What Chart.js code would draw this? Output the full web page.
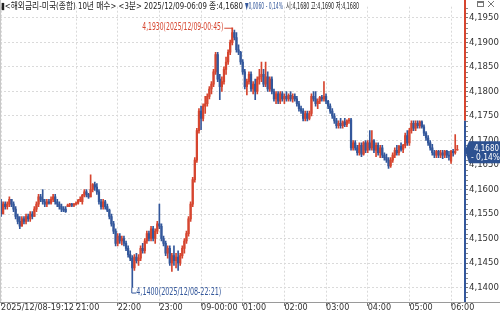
<!DOCTYPE html>
<html>
<head>
<meta charset="utf-8">
<script src="https://cdn.jsdelivr.net/npm/chart.js@4/dist/chart.umd.min.js"></script>
<style>
  html, body { margin: 0; padding: 0; background: #fff; }
</style>
</head>
<body>
<canvas id="chart" width="500" height="314"></canvas>
<script>
// 3-minute candles, 2025/12/08 19:12 -> 2025/12/09 06:09 (one entry per bar)
const opens = [
  4.1575,4.1550,4.1570,4.1565,4.1570,4.1580,4.1570,4.1560,4.1545,4.1535,
  4.1525,4.1540,4.1535,4.1545,4.1540,4.1550,4.1545,4.1560,4.1570,4.1585,
  4.1580,4.1575,4.1570,4.1575,4.1572,4.1580,4.1585,4.1575,4.1570,4.1565,
  4.1560,4.1560,4.1565,4.1568,4.1570,4.1568,4.1570,4.1572,4.1578,4.1575,
  4.1588,4.1595,4.1590,4.1585,4.1600,4.1610,4.1605,4.1595,4.1575,4.1565,
  4.1575,4.1565,4.1558,4.1545,4.1530,4.1515,4.1490,4.1505,4.1495,4.1500,
  4.1490,4.1480,4.1467,4.1460,4.1440,4.1462,4.1455,4.1460,4.1480,4.1475,
  4.1495,4.1510,4.1500,4.1520,4.1500,4.1515,4.1530,4.1525,4.1500,4.1490,
  4.1470,4.1480,4.1450,4.1465,4.1455,4.1462,4.1450,4.1465,4.1480,4.1495,
  4.1510,4.1540,4.1570,4.1620,4.1660,4.1720,4.1760,4.1745,4.1770,4.1775,
  4.1790,4.1805,4.1815,4.1840,4.1875,4.1825,4.1810,4.1820,4.1845,4.1860,
  4.1880,4.1900,4.1920,4.1910,4.1885,4.1880,4.1860,4.1840,4.1810,4.1820,
  4.1835,4.1805,4.1815,4.1800,4.1825,4.1830,4.1835,4.1815,4.1830,4.1805,
  4.1825,4.1800,4.1785,4.1795,4.1780,4.1795,4.1785,4.1790,4.1785,4.1792,
  4.1785,4.1790,4.1785,4.1775,4.1765,4.1760,4.1745,4.1755,4.1745,4.1755,
  4.1790,4.1785,4.1775,4.1780,4.1788,4.1785,4.1790,4.1780,4.1770,4.1760,
  4.1750,4.1740,4.1730,4.1735,4.1730,4.1738,4.1732,4.1740,4.1742,4.1685,
  4.1695,4.1685,4.1675,4.1690,4.1672,4.1695,4.1680,4.1695,4.1685,4.1700,
  4.1680,4.1690,4.1675,4.1685,4.1670,4.1665,4.1660,4.1648,4.1660,4.1670,
  4.1680,4.1675,4.1688,4.1682,4.1690,4.1710,4.1695,4.1720,4.1735,4.1725,
  4.1735,4.1730,4.1738,4.1728,4.1715,4.1705,4.1695,4.1685,4.1675,4.1670,
  4.1678,4.1670,4.1675,4.1670,4.1678,4.1670,4.1658,4.1678,4.1675,4.1680
];
const highs = [
  4.1580,4.1575,4.1575,4.1575,4.1585,4.1580,4.1575,4.1565,4.1550,4.1545,
  4.1545,4.1545,4.1550,4.1550,4.1555,4.1555,4.1565,4.1575,4.1590,4.1590,
  4.1600,4.1580,4.1580,4.1580,4.1585,4.1590,4.1590,4.1580,4.1575,4.1570,
  4.1565,4.1565,4.1570,4.1572,4.1572,4.1572,4.1575,4.1580,4.1585,4.1590,
  4.1600,4.1600,4.1592,4.1630,4.1612,4.1615,4.1612,4.1600,4.1580,4.1580,
  4.1578,4.1570,4.1560,4.1550,4.1535,4.1520,4.1510,4.1510,4.1505,4.1505,
  4.1495,4.1485,4.1475,4.1465,4.1467,4.1470,4.1467,4.1485,4.1490,4.1500,
  4.1515,4.1515,4.1525,4.1525,4.1520,4.1535,4.1570,4.1530,4.1505,4.1495,
  4.1485,4.1485,4.1470,4.1485,4.1470,4.1475,4.1470,4.1485,4.1500,4.1515,
  4.1545,4.1575,4.1625,4.1665,4.1725,4.1765,4.1770,4.1775,4.1790,4.1795,
  4.1810,4.1820,4.1845,4.1880,4.1880,4.1835,4.1830,4.1850,4.1870,4.1885,
  4.1905,4.1930,4.1925,4.1920,4.1895,4.1882,4.1865,4.1845,4.1825,4.1840,
  4.1840,4.1820,4.1825,4.1830,4.1845,4.1860,4.1845,4.1860,4.1840,4.1830,
  4.1830,4.1805,4.1800,4.1800,4.1800,4.1800,4.1795,4.1800,4.1795,4.1800,
  4.1795,4.1795,4.1790,4.1780,4.1770,4.1765,4.1760,4.1760,4.1760,4.1795,
  4.1800,4.1800,4.1785,4.1790,4.1792,4.1820,4.1795,4.1782,4.1775,4.1765,
  4.1755,4.1745,4.1740,4.1745,4.1740,4.1745,4.1742,4.1745,4.1745,4.1700,
  4.1700,4.1690,4.1695,4.1695,4.1698,4.1700,4.1700,4.1720,4.1720,4.1702,
  4.1695,4.1695,4.1690,4.1690,4.1675,4.1672,4.1665,4.1665,4.1675,4.1685,
  4.1690,4.1690,4.1695,4.1692,4.1715,4.1720,4.1725,4.1740,4.1740,4.1740,
  4.1740,4.1740,4.1740,4.1732,4.1718,4.1710,4.1700,4.1692,4.1680,4.1680,
  4.1680,4.1680,4.1680,4.1680,4.1680,4.1678,4.1680,4.1682,4.1712,4.1690
];
const lows = [
  4.1545,4.1550,4.1560,4.1560,4.1565,4.1565,4.1555,4.1540,4.1530,4.1520,
  4.1525,4.1530,4.1530,4.1535,4.1535,4.1540,4.1545,4.1555,4.1565,4.1575,
  4.1570,4.1565,4.1565,4.1570,4.1570,4.1575,4.1570,4.1565,4.1560,4.1555,
  4.1555,4.1553,4.1565,4.1565,4.1565,4.1565,4.1568,4.1570,4.1575,4.1570,
  4.1585,4.1585,4.1582,4.1585,4.1595,4.1598,4.1590,4.1570,4.1560,4.1560,
  4.1560,4.1555,4.1540,4.1525,4.1510,4.1485,4.1485,4.1490,4.1487,4.1485,
  4.1475,4.1462,4.1455,4.1400,4.1435,4.1450,4.1445,4.1455,4.1470,4.1470,
  4.1490,4.1495,4.1495,4.1495,4.1490,4.1510,4.1520,4.1495,4.1485,4.1465,
  4.1460,4.1445,4.1433,4.1445,4.1440,4.1435,4.1445,4.1460,4.1470,4.1490,
  4.1505,4.1535,4.1565,4.1615,4.1655,4.1715,4.1722,4.1740,4.1755,4.1770,
  4.1785,4.1795,4.1810,4.1835,4.1820,4.1783,4.1800,4.1815,4.1835,4.1855,
  4.1875,4.1895,4.1905,4.1880,4.1875,4.1855,4.1835,4.1805,4.1793,4.1815,
  4.1800,4.1795,4.1783,4.1795,4.1815,4.1820,4.1810,4.1810,4.1800,4.1800,
  4.1795,4.1780,4.1775,4.1775,4.1775,4.1780,4.1775,4.1780,4.1780,4.1780,
  4.1778,4.1780,4.1770,4.1760,4.1755,4.1740,4.1740,4.1740,4.1742,4.1750,
  4.1780,4.1770,4.1765,4.1775,4.1780,4.1780,4.1775,4.1765,4.1755,4.1745,
  4.1735,4.1725,4.1725,4.1725,4.1725,4.1728,4.1728,4.1735,4.1680,4.1680,
  4.1680,4.1670,4.1670,4.1667,4.1670,4.1675,4.1675,4.1680,4.1680,4.1675,
  4.1667,4.1670,4.1665,4.1665,4.1660,4.1655,4.1643,4.1645,4.1655,4.1665,
  4.1670,4.1670,4.1678,4.1675,4.1685,4.1690,4.1690,4.1715,4.1720,4.1720,
  4.1725,4.1725,4.1725,4.1710,4.1700,4.1690,4.1680,4.1670,4.1665,4.1665,
  4.1665,4.1665,4.1663,4.1665,4.1665,4.1660,4.1653,4.1668,4.1672,4.1680
];
const closes = [
  4.1550,4.1570,4.1565,4.1570,4.1580,4.1570,4.1560,4.1545,4.1535,4.1525,
  4.1540,4.1535,4.1545,4.1540,4.1550,4.1545,4.1560,4.1570,4.1585,4.1580,
  4.1575,4.1570,4.1575,4.1572,4.1580,4.1585,4.1575,4.1570,4.1565,4.1560,
  4.1558,4.1555,4.1568,4.1570,4.1568,4.1570,4.1572,4.1578,4.1580,4.1588,
  4.1595,4.1590,4.1585,4.1600,4.1610,4.1605,4.1595,4.1575,4.1565,4.1575,
  4.1565,4.1558,4.1545,4.1530,4.1515,4.1490,4.1505,4.1495,4.1500,4.1490,
  4.1480,4.1467,4.1460,4.1440,4.1462,4.1455,4.1460,4.1480,4.1475,4.1495,
  4.1510,4.1500,4.1520,4.1500,4.1515,4.1530,4.1525,4.1500,4.1490,4.1470,
  4.1480,4.1450,4.1465,4.1455,4.1462,4.1450,4.1465,4.1480,4.1495,4.1510,
  4.1540,4.1570,4.1620,4.1660,4.1720,4.1760,4.1745,4.1770,4.1775,4.1790,
  4.1805,4.1815,4.1840,4.1875,4.1825,4.1810,4.1820,4.1845,4.1860,4.1880,
  4.1900,4.1920,4.1910,4.1885,4.1880,4.1860,4.1840,4.1810,4.1820,4.1835,
  4.1805,4.1815,4.1800,4.1825,4.1830,4.1835,4.1815,4.1830,4.1805,4.1825,
  4.1800,4.1785,4.1795,4.1780,4.1795,4.1785,4.1790,4.1785,4.1792,4.1785,
  4.1790,4.1785,4.1775,4.1765,4.1760,4.1745,4.1755,4.1745,4.1755,4.1790,
  4.1785,4.1775,4.1780,4.1788,4.1785,4.1790,4.1780,4.1770,4.1760,4.1750,
  4.1740,4.1730,4.1735,4.1730,4.1738,4.1732,4.1740,4.1742,4.1685,4.1695,
  4.1685,4.1675,4.1690,4.1672,4.1695,4.1680,4.1695,4.1685,4.1700,4.1680,
  4.1690,4.1675,4.1685,4.1670,4.1665,4.1660,4.1648,4.1660,4.1670,4.1680,
  4.1675,4.1688,4.1682,4.1690,4.1710,4.1695,4.1720,4.1735,4.1725,4.1735,
  4.1730,4.1738,4.1728,4.1715,4.1705,4.1695,4.1685,4.1675,4.1670,4.1678,
  4.1670,4.1675,4.1670,4.1678,4.1670,4.1668,4.1678,4.1675,4.1678,4.1680
];

// time axis labels (bar index -> label)
const tickIndex = [0, 36, 56, 76, 96, 116, 136, 156, 176, 196, 216];
const tickLabels = ['2025/12/08-19:12', '21:00', '22:00', '23:00', '09-00:00', '01:00',
                    '02:00', '03:00', '04:00', '05:00', '06:00'];

const prevClose = 4.1740;
const lastClose = 4.1680;
const changePct = '- 0,14%';
const maxText = '4,1930(2025/12/09-00:45)';
const minText = '4,1400(2025/12/08-22:21)';
const headerMain = '▮<해외금리-미국(종합) 10년 매수> <3분> 2025/12/09-06:09 종:4,1680';
const headerChange = '▼0,0060 - 0,14%';
const headerOHL = '시:4,1680 고:4,1690 저:4,1680';

const RED = '#d6452f';
const BLUE = '#33579b';
const NARROW = '"Liberation Sans Narrow", "DejaVu Sans Condensed", "Liberation Sans", sans-serif';
const HEADER_FONT = '9.5px "Liberation Sans Narrow", "DejaVu Sans Condensed", "Noto Sans CJK KR", sans-serif';

const fmt = v => Number(v).toFixed(4).replace('.', ',');
const candleColor = ctx => (closes[ctx.dataIndex] >= opens[ctx.dataIndex] ? RED : BLUE);

const overlay = {
  id: 'overlay',
  afterDraw(chart) {
    const ctx = chart.ctx;
    const ca = chart.chartArea;
    const xs = chart.scales.x;
    const ys = chart.scales.y;
    ctx.save();

    // left border and bottom axis line
    ctx.strokeStyle = '#c8c8c8';
    ctx.lineWidth = 1;
    ctx.beginPath();
    ctx.moveTo(0.5, 0); ctx.lineTo(0.5, ca.bottom);
    ctx.stroke();
    ctx.strokeStyle = '#9a9a9a';
    ctx.beginPath();
    ctx.moveTo(0, ca.bottom + 0.5); ctx.lineTo(500, ca.bottom + 0.5);
    ctx.stroke();

    // price axis line: red above previous close, blue below
    const yPrev = ys.getPixelForValue(prevClose);
    ctx.lineWidth = 2;
    ctx.strokeStyle = RED;
    ctx.beginPath(); ctx.moveTo(ca.right, 0); ctx.lineTo(ca.right, yPrev); ctx.stroke();
    ctx.strokeStyle = BLUE;
    ctx.beginPath(); ctx.moveTo(ca.right, yPrev); ctx.lineTo(ca.right, ca.bottom); ctx.stroke();

    // minor ticks every 0.001
    ctx.lineWidth = 1;
    ctx.strokeStyle = '#888';
    for (let k = Math.ceil(ys.min * 1000); k <= Math.floor(ys.max * 1000); k++) {
      if (k % 5 === 0) continue;
      const y = Math.round(ys.getPixelForValue(k / 1000)) + 0.5;
      ctx.beginPath(); ctx.moveTo(ca.right + 1, y); ctx.lineTo(ca.right + 3, y); ctx.stroke();
    }

    // header line
    ctx.textBaseline = 'middle';
    ctx.textAlign = 'left';
    ctx.font = HEADER_FONT;
    ctx.fillStyle = '#222';
    ctx.fillText(headerMain, 1, 6.5, 242);
    ctx.fillStyle = BLUE;
    ctx.fillText(headerChange, 245, 6.5, 38);
    ctx.fillStyle = '#222';
    ctx.fillText(headerOHL, 286, 6.5, 73);

    // window icons
    ctx.strokeStyle = '#777';
    ctx.strokeRect(477.5, 1.5, 6, 5);
    ctx.fillStyle = '#777';
    ctx.fillRect(477, 1, 7, 2);
    ctx.beginPath();
    ctx.moveTo(488, 1); ctx.lineTo(494, 7);
    ctx.moveTo(494, 1); ctx.lineTo(488, 7);
    ctx.stroke();

    // max marker
    let iMax = 0, iMin = 0;
    highs.forEach((v, i) => { if (v > highs[iMax]) iMax = i; });
    lows.forEach((v, i) => { if (v < lows[iMin]) iMin = i; });
    const hx = xs.getPixelForValue(iMax), hy = ys.getPixelForValue(highs[iMax]);
    ctx.font = '10px ' + NARROW;
    ctx.fillStyle = RED;
    ctx.strokeStyle = RED;
    ctx.textAlign = 'right';
    ctx.fillText(maxText, hx - 9, hy, 81);
    ctx.beginPath();
    ctx.moveTo(hx - 8, hy + 0.5); ctx.lineTo(hx, hy + 0.5); ctx.lineTo(hx, hy + 4);
    ctx.stroke();

    // min marker
    const lx = xs.getPixelForValue(iMin), ly = ys.getPixelForValue(lows[iMin]);
    ctx.fillStyle = BLUE;
    ctx.strokeStyle = BLUE;
    ctx.textAlign = 'left';
    ctx.beginPath();
    ctx.moveTo(lx - 0.5, ly); ctx.lineTo(lx - 0.5, ly + 5.5); ctx.lineTo(lx + 4, ly + 5.5);
    ctx.stroke();
    ctx.fillText(minText, lx + 4, ly + 5, 85);

    // current price box
    const cy = ys.getPixelForValue(lastClose);
    ctx.fillStyle = '#2d5190';
    ctx.beginPath();
    ctx.moveTo(ca.right, cy);
    ctx.lineTo(ca.right + 4, cy - 9);
    ctx.lineTo(500, cy - 9);
    ctx.lineTo(500, cy + 13);
    ctx.lineTo(ca.right + 4, cy + 13);
    ctx.closePath();
    ctx.fill();
    ctx.fillStyle = '#fff';
    ctx.font = '9px ' + NARROW;
    ctx.fillText(fmt(lastClose), ca.right + 9, cy - 2, 25);
    ctx.fillText(changePct, ca.right + 6, cy + 7, 29);

    ctx.restore();
  }
};

new Chart(document.getElementById('chart'), {
  type: 'bar',
  data: {
    datasets: [
      {
        label: 'wick',
        data: opens.map((o, i) => ({ x: i, y: [lows[i], highs[i]] })),
        backgroundColor: candleColor,
        barThickness: 1,
        grouped: false,
        order: 2
      },
      {
        label: 'body',
        data: opens.map((o, i) => ({ x: i, y: [o, closes[i]] })),
        backgroundColor: candleColor,
        barThickness: 1.6,
        minBarLength: 1,
        grouped: false,
        order: 1
      }
    ]
  },
  options: {
    responsive: false,
    animation: false,
    devicePixelRatio: 1,
    layout: { padding: { top: 2, left: 0, right: 0, bottom: 0 } },
    plugins: { legend: { display: false }, tooltip: { enabled: false } },
    scales: {
      x: {
        type: 'linear',
        offset: false,
        min: -0.5,
        max: 222.7,
        afterBuildTicks: s => { s.ticks = tickIndex.map(v => ({ value: v })); },
        afterFit: s => { s.height = 12; },
        ticks: {
          autoSkip: false,
          maxRotation: 0,
          align: 'start',
          padding: -4,
          color: '#333',
          font: { family: NARROW, size: 9 },
          callback: v => tickLabels[tickIndex.indexOf(v)]
        },
        grid: { offset: false, color: '#dadada', tickLength: 4, tickColor: '#777' },
        border: { display: false, dash: [2, 2] }
      },
      y: {
        position: 'right',
        min: 4.13705,
        max: 4.19729,
        afterFit: s => { s.width = 35; },
        ticks: {
          stepSize: 0.005,
          includeBounds: false,
          padding: 1,
          color: '#333',
          font: { family: NARROW, size: 9.5 },
          callback: v => fmt(v)
        },
        grid: { color: '#dadada', tickLength: 3, tickColor: '#777' },
        border: { display: false, dash: [2, 2] }
      }
    }
  },
  plugins: [overlay]
});
</script>
</body>
</html>
